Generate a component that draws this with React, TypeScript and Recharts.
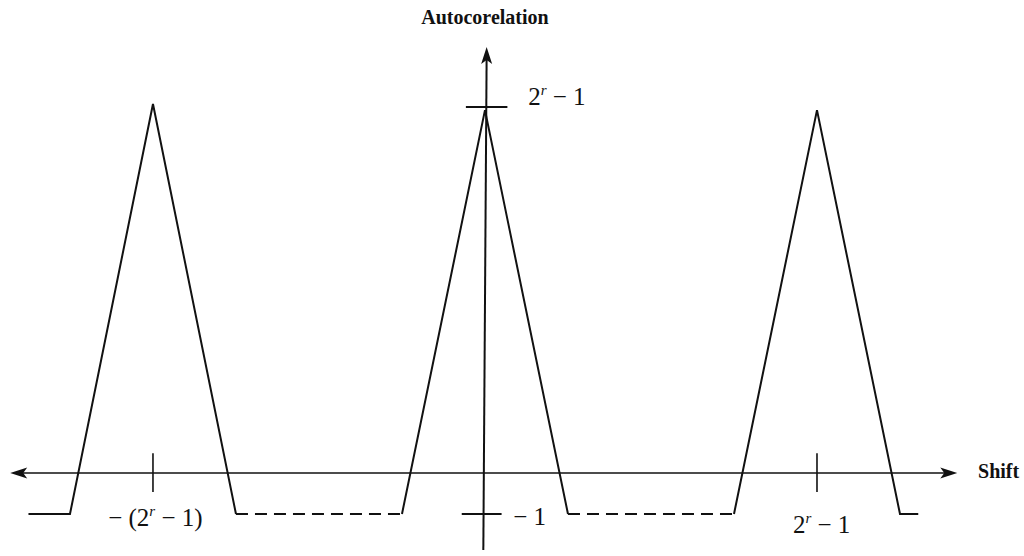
import React from 'react';
import { LineChart, Line, XAxis, YAxis, ReferenceLine, ReferenceDot } from 'recharts';

// shift values (in chip units) and the autocorrelation drawn at each
const shift = [-5.5, -5, -4, -3, -2, -1, 0, 1, 2, 3, 4, 5, 5.22];
const autocorrelation = [-1, -1, 9.0, -1, null, -1, 8.85, -1, null, -1, 8.85, -1, -1];
// dashed floor between the peaks
const floorShift = [-3, -1, 0, 1, 3];
const floorValues = [-1, -1, null, -1, -1];
// period ticks on the shift axis and their labels
const periodTicks = [-4, 4];
const periodLabels = ['\u2212 (2', '2'];
const peakLevel = 8.93;
const floorLevel = -1;

const solidData = shift.map((x, i) => ({ x, y: autocorrelation[i] }));
const floorData = floorShift.map((x, i) => ({ x, y: floorValues[i] }));

const W = 1024;
const H = 556;
const X_DOMAIN: [number, number] = [-5.843, 6.494];
const Y_DOMAIN: [number, number] = [-2.024, 11.537];

const INK = '#111';
const SERIF = '"Liberation Serif", "DejaVu Serif", serif';
const MINUS = '\u2212';

const Arrow = ({ cx, cy, dir }: any) => {
  const L = 17, w = 5.5;
  let pts = '';
  if (dir === 'left') pts = `${cx},${cy} ${cx + L},${cy - w} ${cx + L - 4},${cy} ${cx + L},${cy + w}`;
  if (dir === 'right') pts = `${cx},${cy} ${cx - L},${cy - w} ${cx - L + 4},${cy} ${cx - L},${cy + w}`;
  if (dir === 'up') pts = `${cx},${cy} ${cx - w},${cy + L} ${cx},${cy + L - 4} ${cx + w},${cy + L}`;
  return <polygon points={pts} fill={INK} />;
};

// text drawn at a data point: "2^r − 1" style labels
const PowLabel = ({ cx, cy, pre, post, anchor = 'start' }: any) => (
  <text x={cx} y={cy} fontFamily={SERIF} fontSize={25} fill={INK} textAnchor={anchor}>
    {pre}
    <tspan fontSize={15} fontStyle="italic" dy={-10}>r</tspan>
    <tspan dy={10}>{post}</tspan>
  </text>
);

const Caption = ({ cx, cy, text, anchor = 'start' }: any) => (
  <text x={cx} y={cy} fontFamily={SERIF} fontSize={20} fontWeight="bold" fill={INK} textAnchor={anchor}>
    {text}
  </text>
);

const Plain = ({ cx, cy, text }: any) => (
  <text x={cx} y={cy} fontFamily={SERIF} fontSize={25} fill={INK}>
    {text}
  </text>
);

export default function App() {
  return (
    <div style={{ position: 'absolute', left: 0, top: 0, width: W, height: H, background: '#fff' }}>
      <LineChart width={W} height={H} margin={{ top: 0, right: 0, bottom: 0, left: 0 }}>
        <XAxis dataKey="x" type="number" domain={X_DOMAIN} allowDataOverflow hide />
        <YAxis type="number" domain={Y_DOMAIN} allowDataOverflow hide />

        {/* axes */}
        <ReferenceLine segment={[{ x: -5.6, y: 0 }, { x: 5.6, y: 0 }]} stroke={INK} strokeWidth={1.6} />
        <ReferenceLine segment={[{ x: -0.02, y: -1.88 }, { x: 0.02, y: 10.2 }]} stroke={INK} strokeWidth={2} />
        <ReferenceDot x={-5.72} y={0} r={0} shape={(p: any) => <Arrow {...p} dir="left" />} />
        <ReferenceDot x={5.69} y={0} r={0} shape={(p: any) => <Arrow {...p} dir="right" />} />
        <ReferenceDot x={0.02} y={10.39} r={0} shape={(p: any) => <Arrow {...p} dir="up" />} />

        {/* ticks */}
        {periodTicks.map((t) => (
          <ReferenceLine key={t} segment={[{ x: t, y: 0.48 }, { x: t, y: -0.46 }]} stroke={INK} strokeWidth={1.6} />
        ))}
        <ReferenceLine segment={[{ x: -0.23, y: peakLevel }, { x: 0.27, y: peakLevel }]} stroke={INK} strokeWidth={2} />
        <ReferenceLine segment={[{ x: -0.28, y: floorLevel }, { x: 0.2, y: floorLevel }]} stroke={INK} strokeWidth={2} />

        {/* autocorrelation */}
        <Line data={solidData} dataKey="y" stroke={INK} strokeWidth={2} dot={false} activeDot={false} isAnimationActive={false} connectNulls={false} />
        <Line data={floorData} dataKey="y" stroke={INK} strokeWidth={2} strokeDasharray="12 7" dot={false} activeDot={false} isAnimationActive={false} connectNulls={false} />

        {/* labels */}
        <ReferenceDot x={0} y={10.95} r={0} shape={(p: any) => <Caption {...p} text="Autocorelation" anchor="middle" />} />
        <ReferenceDot x={5.94} y={-0.12} r={0} shape={(p: any) => <Caption {...p} text="Shift" />} />
        <ReferenceDot x={0.52} y={8.98} r={0} shape={(p: any) => <PowLabel {...p} pre="2" post={` ${MINUS} 1`} />} />
        <ReferenceDot x={-4.54} y={-1.29} r={0} shape={(p: any) => <PowLabel {...p} pre={periodLabels[0]} post={` ${MINUS} 1)`} />} />
        <ReferenceDot x={3.71} y={-1.46} r={0} shape={(p: any) => <PowLabel {...p} pre={periodLabels[1]} post={` ${MINUS} 1`} />} />
        <ReferenceDot x={0.34} y={-1.27} r={0} shape={(p: any) => <Plain {...p} text={`${MINUS} 1`} />} />
      </LineChart>
    </div>
  );
}
